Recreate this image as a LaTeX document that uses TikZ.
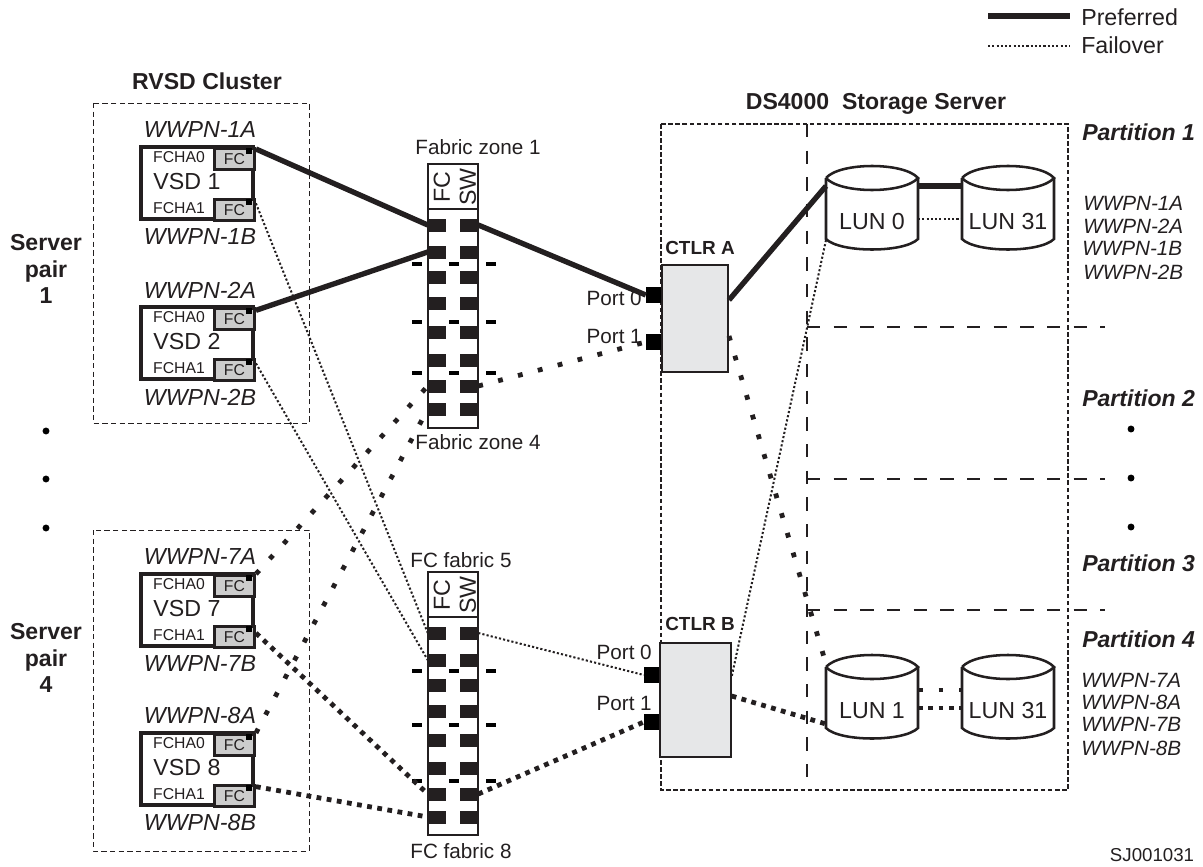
\documentclass[tikz,border=0pt]{standalone}
\usepackage{fontspec}
\setmainfont{Liberation Sans}
\definecolor{ink}{HTML}{231F20}
\definecolor{fcgray}{HTML}{CCCCCC}
\definecolor{ctlrgray}{HTML}{E6E7E8}
\tikzset{
    every node/.style={text=ink, inner sep=0pt},
    preferred/.style={draw=ink, line width=4pt},
    failover/.style={draw=ink, line width=1.5pt, dash pattern=on 1.6pt off 1.6pt},
    failwide/.style={draw=ink, line width=3.6pt, dash pattern=on 3.6pt off 11.8pt},
    failtight/.style={draw=ink, line width=3.6pt, dash pattern=on 3.6pt off 4.1pt},
    clusterbox/.style={draw=ink, line width=0.7pt, dash pattern=on 4pt off 2.5pt},
    serverbox/.style={draw=ink, line width=1.9pt, dash pattern=on 3.4pt off 1.9pt},
    partline/.style={draw=ink, line width=2pt, dash pattern=on 10pt off 10pt},
    swport/.style={fill=ink, minimum width=13.5pt, minimum height=9.75pt},
    swdash/.style={fill=black, minimum width=7.5pt, minimum height=3pt},
    fcbox/.style={draw=ink, line width=2.2pt, fill=fcgray, anchor=north west, minimum width=30pt, minimum height=16pt, font=\fontsize{11.8}{12}\selectfont},
    ctlrbox/.style={draw=ink, line width=1.5pt, fill=ctlrgray, anchor=north west},
    ctlrport/.style={fill=black, anchor=east, minimum width=11pt, minimum height=12pt},
    big/.style={font=\fontsize{17.4}{20}\selectfont},
    bigbold/.style={font=\fontsize{17.3}{20}\selectfont\bfseries},
    mid/.style={font=\fontsize{15.5}{18}\selectfont},
    partname/.style={font=\fontsize{17.3}{20}\selectfont\bfseries\itshape, anchor=west},
    wwpn/.style={font=\fontsize{17.4}{20}\selectfont\itshape},
    wwpnlist/.style={font=\fontsize{15.5}{18}\selectfont\itshape, anchor=west},
    ctlrname/.style={font=\fontsize{14.2}{16}\selectfont\bfseries},
    dotmark/.style={circle, fill=black, minimum size=5.2pt}
}
\begin{document}
\begin{tikzpicture}[x=0.75pt, y=-0.75pt]
    \useasboundingbox (0,0) rectangle (1203,867);

    \coordinate (prefa) at (988,16);
    \coordinate (prefb) at (1070,16);
    \coordinate (faila) at (988,46);
    \coordinate (failb) at (1070,46);
    \draw[preferred] (prefa) -- (prefb);
    \draw[failover] (faila) -- (failb);
    \node[big, anchor=west] (legpref) at (1081,17) {Preferred};
    \node[big, anchor=west] (legfail) at (1081,45) {Failover};

    \node[bigbold] (clustername) at (207,81) {RVSD Cluster};
    \node[bigbold] (servername) at (876,104) {DS4000\ \ Storage Server};
    \draw[clusterbox] (93,103) rectangle (309,423);
    \draw[clusterbox] (93,530) rectangle (309,851);

    \node[bigbold, align=center, text width=80pt] (pairone) at (46,269) {Server\\pair\\1};
    \node[bigbold, align=center, text width=80pt] (pairfour) at (46,658) {Server\\pair\\4};
    \foreach \n/\y in {a/431, b/479, c/528} {
        \node[dotmark] (ldot\n) at (46,\y) {};
    }
    \foreach \n/\y in {a/429, b/478, c/527} {
        \node[dotmark] (rdot\n) at (1131,\y) {};
    }

    \foreach \n/\y in {1/147, 2/307, 7/574, 8/733} {
        \begin{scope}[shift={(141,\y)}]
            \draw[ink, line width=2.5pt, fill=white] (0,0) rectangle (112,72);
            \node[fcbox] (fc\n a) at (72,0) {FC};
            \node[fcbox] (fc\n b) at (72,51) {FC};
            \fill[black] (105,1) rectangle (111,7);
            \fill[black] (105,52) rectangle (111,58);
            \node[font=\fontsize{11.8}{12}\selectfont] (ha\n) at (38,10) {FCHA0};
            \node[font=\fontsize{11.8}{12}\selectfont] (hb\n) at (38,61) {FCHA1};
            \node[big] (vsd\n) at (46,35) {VSD \n};
            \node[wwpn] (wa\n) at (59,-17) {WWPN-\n{}A};
            \node[wwpn] (wb\n) at (59,90) {WWPN-\n{}B};
        \end{scope}
    }

    \draw[ink, line width=0.9pt, fill=white] (428,164) rectangle (478,428);
    \draw[ink, line width=0.9pt] (428,209) -- (478,209);
    \node[big, rotate=90] (fctop) at (442,187) {FC};
    \node[big, rotate=90] (swtop) at (468,187) {SW};
    \foreach \n/\y in {1/225, 2/252, 3/277, 4/303, 5/332, 6/360, 7/386, 8/409} {
        \node[swport] (sa\n l) at (437,\y) {};
        \node[swport] (sa\n r) at (469,\y) {};
    }
    \foreach \n/\y in {1/264, 2/322, 3/373} {
        \node[swdash] (da\n l) at (417,\y) {};
        \node[swdash] (da\n m) at (454,\y) {};
        \node[swdash] (da\n r) at (491,\y) {};
    }
    \node[mid] (zoneone) at (478,147) {Fabric zone 1};
    \node[mid] (zonefour) at (478,442) {Fabric zone 4};

    \draw[ink, line width=0.9pt, fill=white] (428,572) rectangle (478,835);
    \draw[ink, line width=0.9pt] (428,617) -- (478,617);
    \node[big, rotate=90] (fcbot) at (442,595) {FC};
    \node[big, rotate=90] (swbot) at (468,595) {SW};
    \foreach \n/\y in {1/633, 2/660, 3/685, 4/711, 5/740, 6/768, 7/794, 8/817} {
        \node[swport] (sb\n l) at (437,\y) {};
        \node[swport] (sb\n r) at (469,\y) {};
    }
    \foreach \n/\y in {1/671, 2/725, 3/781} {
        \node[swdash] (db\n l) at (417,\y) {};
        \node[swdash] (db\n m) at (454,\y) {};
        \node[swdash] (db\n r) at (491,\y) {};
    }
    \node[mid] (fabfive) at (461,560) {FC fabric 5};
    \node[mid] (fabeight) at (461,851) {FC fabric 8};

    \draw[serverbox] (661,124) rectangle (1068,790);
    \draw[partline] (807,124) -- (807,780);
    \foreach \n/\y in {a/327, b/479, c/610} {
        \coordinate (part\n) at (807,\y);
        \coordinate (parte\n) at (1105,\y);
        \draw[partline] (part\n) -- (parte\n);
    }

    \node[ctlrbox, minimum width=49.5pt, minimum height=80pt] (ctlra) at (661,264) {};
    \node[ctlrbox, minimum width=53pt, minimum height=85.5pt] (ctlrb) at (659,642) {};
    \node[ctlrname] (namea) at (700,248) {CTLR A};
    \node[ctlrname] (nameb) at (700,624) {CTLR B};
    \node[ctlrport] (paz) at (661,295) {};
    \node[ctlrport] (pao) at (661,342) {};
    \node[ctlrport] (pbz) at (659,675) {};
    \node[ctlrport] (pbo) at (659,722) {};
    \node[mid, anchor=east] (lpaz) at (642,298) {Port 0};
    \node[mid, anchor=east] (lpao) at (642,336) {Port 1};
    \node[mid, anchor=east] (lpbz) at (652,652) {Port 0};
    \node[mid, anchor=east] (lpbo) at (652,703) {Port 1};

    \foreach \nm/\xa/\ya/\txt in {lunz/826/178/LUN 0, lunx/962/178/LUN 31, luno/826/667/LUN 1, luny/962/667/LUN 31} {
        \begin{scope}[shift={(\xa,\ya)}]
            \draw[ink, line width=1.9pt] (0,0) .. controls (14,-16) and (78,-16) .. (92,0) .. controls (78,16) and (14,16) .. (0,0);
            \draw[ink, line width=1.9pt] (0,0) -- (0,61) .. controls (14,75) and (78,75) .. (92,61) -- (92,0);
            \node[big] (\nm) at (46,44) {\txt};
            \coordinate (\nm tw) at (0,8);
            \coordinate (\nm te) at (92,8);
            \coordinate (\nm ue) at (92,23);
            \coordinate (\nm me) at (92,41);
            \coordinate (\nm tl) at (0,23);
            \coordinate (\nm ml) at (0,41);
            \coordinate (\nm bw) at (0,62);
            \coordinate (\nm fw) at (0,57);
            \coordinate (\nm hw) at (0,-3);
        \end{scope}
    }

    \node[partname] (ptone) at (1082,132) {Partition 1};
    \node[partname] (pttwo) at (1082,398) {Partition 2};
    \node[partname] (ptthree) at (1082,563) {Partition 3};
    \node[partname] (ptfour) at (1082,639) {Partition 4};
    \node[wwpnlist] (lsta) at (1083,203) {WWPN-1A};
    \node[wwpnlist] (lstb) at (1083,226) {WWPN-2A};
    \node[wwpnlist] (lstc) at (1082,248) {WWPN-1B};
    \node[wwpnlist] (lstd) at (1083,272) {WWPN-2B};
    \node[wwpnlist] (lste) at (1081,680) {WWPN-7A};
    \node[wwpnlist] (lstf) at (1081,702) {WWPN-8A};
    \node[wwpnlist] (lstg) at (1081,724) {WWPN-7B};
    \node[wwpnlist] (lsth) at (1081,748) {WWPN-8B};
    \node[font=\fontsize{14}{16}\selectfont] (sjcode) at (1152,855) {SJ001031};

    \draw[preferred] ([yshift=-1.5pt]fc1a.north east) -- (sa1l.west);
    \draw[preferred] ([yshift=-2.5pt]fc2a.north east) -- (sa2l.west);
    \draw[preferred] (sa1r.east) -- (paz.west);
    \draw[preferred] ([yshift=-27pt]ctlra.north east) -- (lunztw);
    \draw[preferred] (lunzte) -- (lunxtw);

    \draw[failover] ([yshift=-4pt]fc1b.north east) -- (sb1l.west);
    \draw[failover] ([yshift=-4pt]fc2b.north east) -- (sb2l.west);
    \draw[failover] (sb1r.east) -- (pbz.west);
    \draw[failover] (lunzbw) -- ([yshift=-26pt]ctlrb.north east);
    \draw[failover] (lunzme) -- (lunxml);

    \draw[failwide] (fc7a.north east) -- (sa7l.west);
    \draw[failwide] (fc8a.north east) -- (sa8l.west);
    \draw[failwide] (sa7r.east) -- (pao.west);
    \draw[failwide] ([yshift=-54pt]ctlra.north east) -- (lunohw);
    \draw[failwide] (lunoue) -- (lunytl);

    \draw[failtight] ([yshift=-6pt]fc7b.north east) -- (sb7l.west);
    \draw[failtight] ([yshift=-2pt]fc8b.north east) -- (sb8l.west);
    \draw[failtight] (sb7r.east) -- (pbo.west);
    \draw[failtight] ([yshift=-40.5pt]ctlrb.north east) -- (lunofw);
    \draw[failtight] (lunome) -- (lunyml);
\end{tikzpicture}
\end{document}
